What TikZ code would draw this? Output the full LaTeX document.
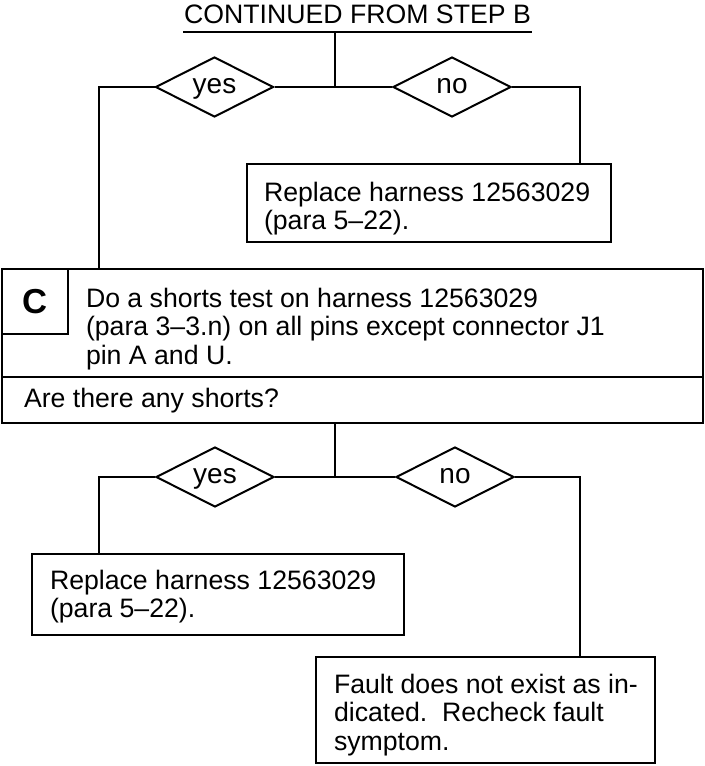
\documentclass[tikz,border=0pt]{standalone}
\usepackage{fontspec}
\setmainfont{Liberation Sans}
\usetikzlibrary{shapes.geometric}
\begin{document}
\begin{tikzpicture}
  [x=0.75pt,y=-0.75pt,line width=1.5pt,
   font=\fontsize{20}{21.5}\selectfont,
   box/.style={draw,rectangle,anchor=north west,outer sep=0pt,inner sep=0pt},
   txt/.style={anchor=north west,align=left,inner sep=0pt},
   dec/.style={draw,diamond,aspect=2,inner sep=0pt,minimum width=88.5pt,minimum height=45pt,
     font=\fontsize{21}{24}\selectfont,text height=12.5pt,text depth=3pt}]
  \useasboundingbox (0,0) rectangle (704,766);
  \coordinate (lft) at (99,0);
  \coordinate (rgt) at (580,0);
  \coordinate (j1) at (335,87);
  \coordinate (j2) at (335,477);
  % heading
  \node[anchor=base,inner sep=0pt] (title) at (357.5,24) {CONTINUED FROM STEP B};
  \coordinate (ul) at ([yshift=-6pt]title.base);
  \draw ([yshift=-6pt]title.base west) -- ([yshift=-6pt]title.base east);
  % first decision
  \node[dec] (yes1) at (214.5,87) {yes};
  \node[dec] (no1) at (452,87) {no};
  \node[box,minimum width=273pt,minimum height=58.5pt] (rep1) at (247,164) {};
  \node[txt] (rep1t) at (263,180) {\strut Replace harness 12563029\\(para 5--22).};
  % step C
  \node[box,line width=1.8pt,minimum width=525.75pt,minimum height=81pt] (cstep) at (2,269) {};
  \node[box,line width=1.8pt,minimum width=49.5pt,minimum height=48.75pt,
    font=\bfseries\fontsize{26}{28}\selectfont] (clabel) at (2,269) {C};
  \node[txt] (cstept) at (85,286)
    {\strut Do a shorts test on harness 12563029\\(para 3--3.n) on all pins except connector J1\\pin A and U.};
  \node[box,line width=1.8pt,minimum width=525.75pt,minimum height=34.5pt] (cq) at (2,377) {};
  \node[txt] (cqt) at (23,386) {\strut Are there any shorts?};
  % second decision
  \node[dec] (yes2) at (215,477) {yes};
  \node[dec] (no2) at (455,477) {no};
  \node[box,minimum width=279pt,minimum height=60.75pt] (rep2) at (32,554) {};
  \node[txt] (rep2t) at (49,568) {\strut Replace harness 12563029\\(para 5--22).};
  \node[box,minimum width=254.25pt,minimum height=79.5pt] (fault) at (316,657) {};
  \node[txt] (faultt) at (333,672)
    {\strut Fault does not exist as in-\\dicated.\ \ Recheck fault\\symptom.};
  % connectors
  \draw (ul -| j1) -- (j1);
  \draw (yes1.east) -- (no1.west);
  \draw (yes1.west) -| (lft |- cstep.north);
  \draw (no1.east) -| (rgt |- rep1.north);
  \draw (j1 |- cq.south) -- (j2);
  \draw (yes2.east) -- (no2.west);
  \draw (yes2.west) -| (lft |- rep2.north);
  \draw (no2.east) -| (rgt |- fault.north);
\end{tikzpicture}
\end{document}
